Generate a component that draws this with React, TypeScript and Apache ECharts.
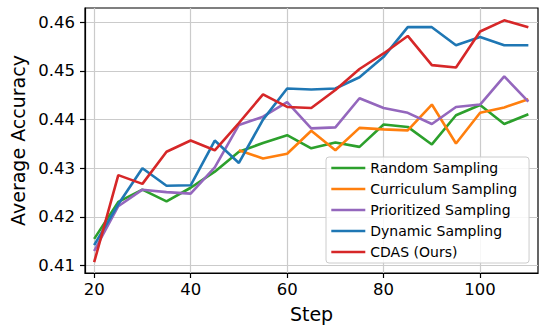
import React, { useEffect, useRef } from "react";
import * as echarts from "echarts";

const steps = [20, 25, 30, 35, 40, 45, 50, 55, 60, 65, 70, 75, 80, 85, 90, 95, 100, 105, 110];
const randomSampling = [0.4155, 0.4231, 0.4256, 0.4232, 0.426, 0.4293, 0.4334, 0.4352, 0.4368, 0.4341, 0.4353, 0.4344, 0.439, 0.4385, 0.4349, 0.4409, 0.443, 0.4391, 0.4411];
const curriculumSampling = [null, null, null, null, null, null, 0.4337, 0.432, 0.433, 0.4377, 0.4337, 0.4383, 0.438, 0.4378, 0.4431, 0.4351, 0.4414, 0.4425, 0.4442];
const prioritizedSampling = [0.413, 0.4222, 0.4256, 0.4251, 0.4248, 0.4302, 0.4389, 0.4406, 0.4436, 0.4382, 0.4384, 0.4444, 0.4424, 0.4414, 0.4391, 0.4426, 0.4431, 0.4489, 0.4437];
const dynamicSampling = [0.4142, 0.4226, 0.43, 0.4264, 0.4265, 0.4357, 0.4311, 0.44, 0.4464, 0.4462, 0.4464, 0.4487, 0.4529, 0.459, 0.459, 0.4553, 0.457, 0.4553, 0.4553];
const cdas = [0.4107, 0.4286, 0.4268, 0.4334, 0.4357, 0.4337, 0.4393, 0.4452, 0.4426, 0.4424, 0.4461, 0.4504, 0.4536, 0.4572, 0.4512, 0.4507, 0.4581, 0.4604, 0.459];

const xTicks = [20, 40, 60, 80, 100];
const yTicks = [0.41, 0.42, 0.43, 0.44, 0.45, 0.46];

const seriesDefs = [
  { name: "Random Sampling", values: randomSampling, color: "#2ca02c" },
  { name: "Curriculum Sampling", values: curriculumSampling, color: "#ff7f0e" },
  { name: "Prioritized Sampling", values: prioritizedSampling, color: "#9467bd" },
  { name: "Dynamic Sampling", values: dynamicSampling, color: "#1f77b4" },
  { name: "CDAS (Ours)", values: cdas, color: "#d62728" },
];

const FONT = "DejaVu Sans";

export default function App() {
  const ref = useRef<HTMLDivElement>(null);
  useEffect(() => {
    const chart = echarts.init(ref.current!, null, { renderer: "svg" });
    chart.setOption({
      animation: false,
      backgroundColor: "#ffffff",
      textStyle: { fontFamily: FONT },
      grid: {
        left: 85,
        right: 9,
        top: 8,
        bottom: 61,
        show: true,
        borderColor: "#000",
        borderWidth: 1.2,
        backgroundColor: "transparent",
      },
      xAxis: {
        type: "value",
        min: 18.1,
        max: 112,
        name: "Step",
        nameLocation: "middle",
        nameGap: 31,
        nameTextStyle: { fontSize: 19, color: "#000", fontFamily: FONT },
        axisLine: { show: true, lineStyle: { color: "#000", width: 1.2 } },
        axisTick: { show: true, length: 5, lineStyle: { color: "#000", width: 1.2 }, customValues: xTicks },
        axisLabel: { customValues: xTicks, fontSize: 16.5, color: "#000", margin: 8, fontFamily: FONT },
        splitLine: { show: true, lineStyle: { color: "#cbcbcb", width: 1.2 } },
      },
      yAxis: {
        type: "value",
        min: 0.40848,
        max: 0.46294,
        name: "Average Accuracy",
        nameLocation: "middle",
        nameGap: 54,
        nameTextStyle: { fontSize: 19, color: "#000", fontFamily: FONT },
        axisLine: { show: true, lineStyle: { color: "#000", width: 1.2 } },
        axisTick: { show: true, length: 5, lineStyle: { color: "#000", width: 1.2 }, customValues: yTicks },
        axisLabel: {
          customValues: yTicks,
          fontSize: 16.5,
          color: "#000",
          margin: 10,
          fontFamily: FONT,
          formatter: (v: number) => v.toFixed(2),
        },
        splitLine: { show: true, lineStyle: { color: "#cbcbcb", width: 1.2 } },
      },
      legend: {
        orient: "vertical",
        left: 326,
        top: 157,
        padding: [4, 12, 4, 4],
        itemWidth: 34,
        itemHeight: 14,
        itemGap: 7,
        itemStyle: { opacity: 0 },
        lineStyle: { width: 2.6 },
        backgroundColor: "rgba(255,255,255,0.85)",
        borderColor: "#cccccc",
        borderWidth: 1,
        borderRadius: 3,
        textStyle: { fontSize: 14, color: "#000", fontFamily: FONT, lineHeight: 14 },
        data: seriesDefs.map((s) => s.name),
      },
      series: seriesDefs.map((s) => ({
        name: s.name,
        type: "line",
        symbol: "none",
        color: s.color,
        lineStyle: { color: s.color, width: 2.6 },
        connectNulls: false,
        data: steps.map((x, i) => [x, s.values[i]]),
      })),
    });
    return () => chart.dispose();
  }, []);
  return (
    <div
      ref={ref}
      style={{ position: "fixed", left: 0, top: 0, width: 547, height: 334, background: "#fff" }}
    />
  );
}
